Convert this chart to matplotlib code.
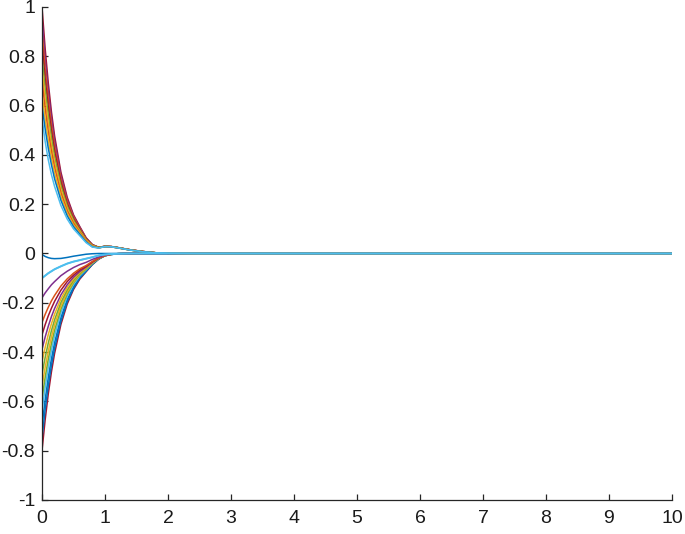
import matplotlib
matplotlib.use("Agg")
import matplotlib.pyplot as plt

# ------------------------------------------------------------------
# values
# ------------------------------------------------------------------
t = [0, 0.05, 0.1, 0.15, 0.2, 0.3, 0.4, 0.5, 0.6, 0.7, 0.8,
     0.9, 1.0, 1.1, 1.2, 1.4, 1.6, 1.8, 2.0, 2.5, 3.0, 10]

# states that start above zero (outer -> inner)
positive_states = [
    [1.00, 0.831, 0.691, 0.574, 0.477, 0.330, 0.228, 0.157, 0.109, 0.064, 0.036,
     0.025, 0.029, 0.028, 0.024, 0.015, 0.008, 0.003, 0.001, 0, 0, 0],
    [0.95, 0.791, 0.659, 0.549, 0.457, 0.317, 0.220, 0.152, 0.106, 0.062, 0.036,
     0.025, 0.029, 0.028, 0.024, 0.015, 0.008, 0.003, 0.001, 0, 0, 0],
    [0.90, 0.750, 0.626, 0.522, 0.435, 0.303, 0.211, 0.147, 0.102, 0.060, 0.034,
     0.025, 0.029, 0.028, 0.024, 0.015, 0.008, 0.003, 0.001, 0, 0, 0],
    [0.85, 0.710, 0.594, 0.496, 0.415, 0.290, 0.202, 0.141, 0.099, 0.059, 0.034,
     0.025, 0.029, 0.028, 0.024, 0.015, 0.008, 0.003, 0.001, 0, 0, 0],
    [0.80, 0.670, 0.561, 0.470, 0.393, 0.276, 0.193, 0.136, 0.095, 0.057, 0.033,
     0.025, 0.029, 0.028, 0.024, 0.015, 0.008, 0.003, 0.001, 0, 0, 0],
    [0.75, 0.629, 0.528, 0.442, 0.371, 0.261, 0.183, 0.129, 0.091, 0.054, 0.032,
     0.023, 0.028, 0.027, 0.023, 0.014, 0.007, 0.003, 0.001, 0, 0, 0],
    [0.70, 0.588, 0.494, 0.415, 0.349, 0.246, 0.174, 0.123, 0.087, 0.052, 0.030,
     0.023, 0.028, 0.027, 0.023, 0.014, 0.007, 0.003, 0.001, 0, 0, 0],
    [0.65, 0.547, 0.461, 0.388, 0.327, 0.232, 0.164, 0.116, 0.083, 0.049, 0.029,
     0.023, 0.028, 0.027, 0.023, 0.014, 0.007, 0.003, 0.001, 0, 0, 0],
    [0.60, 0.506, 0.427, 0.360, 0.303, 0.216, 0.153, 0.109, 0.078, 0.047, 0.027,
     0.023, 0.028, 0.027, 0.023, 0.014, 0.007, 0.003, 0.001, 0, 0, 0],
    [0.55, 0.455, 0.380, 0.320, 0.272, 0.195, 0.140, 0.100, 0.072, 0.044, 0.026,
     0.022, 0.028, 0.027, 0.023, 0.014, 0.007, 0.003, 0.001, 0, 0, 0],
]

# states that start at or below zero (inner -> outer)
negative_states = [
    [-0.004, -0.012, -0.017, -0.020, -0.021, -0.020, -0.016, -0.011, -0.007, -0.003, -0.001,
     0, 0, 0, 0, 0, 0, 0, 0, 0, 0, 0],
    [-0.10, -0.090, -0.080, -0.072, -0.064, -0.052, -0.041, -0.033, -0.027, -0.021, -0.015,
     -0.008, -0.004, -0.002, -0.001, 0, 0, 0, 0, 0, 0, 0],
    [-0.18, -0.160, -0.143, -0.127, -0.114, -0.090, -0.072, -0.057, -0.045, -0.036, -0.024,
     -0.014, -0.006, -0.002, -0.001, 0, 0, 0, 0, 0, 0, 0],
    [-0.28, -0.247, -0.218, -0.192, -0.170, -0.132, -0.103, -0.080, -0.062, -0.049, -0.032,
     -0.018, -0.008, -0.003, -0.001, 0, 0, 0, 0, 0, 0, 0],
    [-0.33, -0.289, -0.253, -0.222, -0.194, -0.149, -0.114, -0.088, -0.067, -0.052, -0.034,
     -0.018, -0.008, -0.003, -0.001, 0, 0, 0, 0, 0, 0, 0],
    [-0.39, -0.339, -0.295, -0.256, -0.223, -0.168, -0.127, -0.096, -0.073, -0.055, -0.035,
     -0.019, -0.008, -0.003, -0.001, 0, 0, 0, 0, 0, 0, 0],
    [-0.44, -0.381, -0.329, -0.285, -0.246, -0.184, -0.138, -0.103, -0.077, -0.058, -0.037,
     -0.019, -0.008, -0.003, -0.001, 0, 0, 0, 0, 0, 0, 0],
    [-0.49, -0.422, -0.363, -0.313, -0.269, -0.199, -0.148, -0.109, -0.081, -0.060, -0.038,
     -0.020, -0.009, -0.003, -0.001, 0, 0, 0, 0, 0, 0, 0],
    [-0.54, -0.462, -0.396, -0.339, -0.290, -0.213, -0.156, -0.115, -0.084, -0.062, -0.038,
     -0.020, -0.009, -0.003, -0.001, 0, 0, 0, 0, 0, 0, 0],
    [-0.59, -0.503, -0.428, -0.365, -0.311, -0.226, -0.164, -0.119, -0.087, -0.063, -0.039,
     -0.020, -0.008, -0.003, -0.001, 0, 0, 0, 0, 0, 0, 0],
    [-0.64, -0.544, -0.462, -0.393, -0.334, -0.241, -0.174, -0.126, -0.091, -0.066, -0.040,
     -0.021, -0.009, -0.004, -0.001, 0, 0, 0, 0, 0, 0, 0],
    [-0.70, -0.594, -0.503, -0.427, -0.362, -0.260, -0.187, -0.135, -0.097, -0.070, -0.042,
     -0.022, -0.009, -0.004, -0.001, 0, 0, 0, 0, 0, 0, 0],
    [-0.75, -0.634, -0.537, -0.454, -0.384, -0.275, -0.196, -0.141, -0.100, -0.072, -0.044,
     -0.022, -0.009, -0.004, -0.001, 0, 0, 0, 0, 0, 0, 0],
    [-0.80, -0.675, -0.569, -0.480, -0.405, -0.288, -0.205, -0.146, -0.104, -0.074, -0.045,
     -0.023, -0.009, -0.004, -0.001, 0, 0, 0, 0, 0, 0, 0],
]

x_ticks = [0, 1, 2, 3, 4, 5, 6, 7, 8, 9, 10]
y_ticks = [-1, -0.8, -0.6, -0.4, -0.2, 0, 0.2, 0.4, 0.6, 0.8, 1]
y_tick_labels = ['-1', '-0.8', '-0.6', '-0.4', '-0.2', '0', '0.2', '0.4', '0.6', '0.8', '1']

# MATLAB default line colours
BLUE, ORANGE, YELLOW, PURPLE = '#0072BD', '#D95319', '#EDB120', '#7E2F8E'
GREEN, LIGHTBLUE, DARKRED = '#77AC30', '#4DBEEE', '#A2142F'

pos_colors = [DARKRED, PURPLE, ORANGE, DARKRED, GREEN, YELLOW, ORANGE, YELLOW, BLUE, LIGHTBLUE]
neg_colors = [BLUE, LIGHTBLUE, PURPLE, ORANGE, DARKRED, PURPLE, YELLOW, GREEN,
              YELLOW, GREEN, LIGHTBLUE, BLUE, BLUE, DARKRED]

# ------------------------------------------------------------------
# plot
# ------------------------------------------------------------------
plt.rcParams['font.family'] = ['Liberation Sans', 'DejaVu Sans']

fig = plt.figure(figsize=(6.85, 5.34), dpi=100)
ax = fig.add_axes([0.0613, 0.0637, 0.9197, 0.9232])

LW = 1.1
for row, c in zip(negative_states[::-1], neg_colors[::-1]):
    ax.plot(t, row, color=c, lw=LW)
for row, c in zip(positive_states, pos_colors):
    ax.plot(t, row, color=c, lw=LW)
# the light blue state is drawn last, so it sits on top along zero
ax.plot(t, negative_states[1], color=LIGHTBLUE, lw=1.4)

ax.set_xlim(0, 10)
ax.set_ylim(-1, 1)
ax.set_xticks(x_ticks)
ax.set_yticks(y_ticks)
ax.set_yticklabels(y_tick_labels)

for side in ['top', 'right']:
    ax.spines[side].set_visible(False)
for side in ['left', 'bottom']:
    ax.spines[side].set_color('#262626')
    ax.spines[side].set_linewidth(0.9)

ax.tick_params(direction='in', length=4.5, width=0.9, color='#262626',
               labelsize=14, labelcolor='#1a1a1a')
ax.tick_params(axis='x', pad=7)
ax.tick_params(axis='y', pad=5)

fig.savefig('out.png', dpi=100)
